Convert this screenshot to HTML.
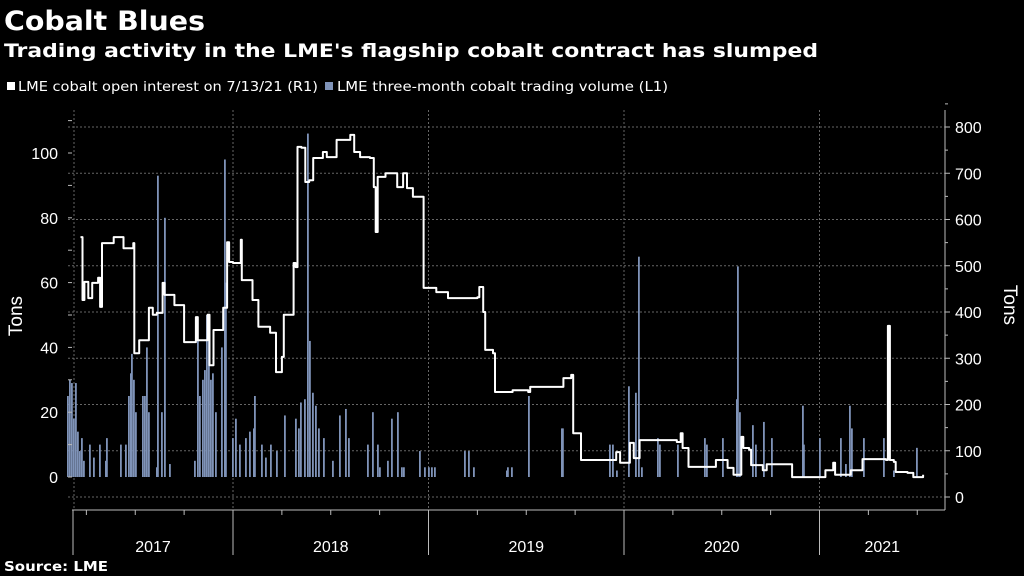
<!DOCTYPE html>
<html><head><meta charset="utf-8">
<style>
html,body{margin:0;padding:0;background:#000;}
body{width:1024px;height:576px;overflow:hidden;position:relative;font-family:"DejaVu Sans","Liberation Sans",sans-serif;color:#fff;}
</style></head><body>
<svg id="chart" width="1024" height="576" style="position:absolute;left:0;top:0;" font-family="DejaVu Sans, Liberation Sans, sans-serif">
<text x="4" y="30" font-size="27" font-weight="bold" fill="#fff" textLength="201" lengthAdjust="spacingAndGlyphs">Cobalt Blues</text>
<text x="4" y="57" font-size="19" font-weight="bold" fill="#fff" textLength="814" lengthAdjust="spacingAndGlyphs">Trading activity in the LME's flagship cobalt contract has slumped</text>
<rect x="7" y="82" width="8" height="8" fill="#fff"/>
<text x="18" y="91" font-size="13" fill="#fff" textLength="300" lengthAdjust="spacingAndGlyphs">LME cobalt open interest on 7/13/21 (R1)</text>
<rect x="325" y="82" width="8" height="8" fill="#7f93b8"/>
<text x="337" y="91" font-size="13" fill="#fff" textLength="331" lengthAdjust="spacingAndGlyphs">LME three-month cobalt trading volume  (L1)</text>
<text x="4" y="571" font-size="13" font-weight="bold" fill="#fff" textLength="104" lengthAdjust="spacingAndGlyphs">Source: LME</text>
</svg>
<script>
const leftTicks=[0,20,40,60,80,100];
const rightTicks=[0,100,200,300,400,500,600,700,800];
const years=["2017","2018","2019","2020","2021"];
const yearStarts=[2017,2018,2019,2020,2021];
const oiDates=[2017.22,2017.23,2017.24,2017.26,2017.28,2017.31,2017.32,2017.33,2017.39,2017.44,2017.49,2017.495,2017.52,2017.57,2017.59,2017.61,2017.64,2017.65,2017.70,2017.75,2017.77,2017.81,2017.82,2017.87,2017.88,2017.90,2017.95,2017.97,2017.98,2018.00,2018.04,2018.045,2018.10,2018.13,2018.19,2018.22,2018.25,2018.26,2018.31,2018.32,2018.33,2018.35,2018.37,2018.39,2018.41,2018.46,2018.48,2018.53,2018.60,2018.62,2018.65,2018.70,2018.72,2018.73,2018.74,2018.78,2018.84,2018.87,2018.89,2018.92,2018.97,2018.975,2019.04,2019.10,2019.25,2019.26,2019.28,2019.29,2019.33,2019.34,2019.43,2019.51,2019.52,2019.66,2019.69,2019.73,2019.74,2019.77,2019.78,2019.95,2019.96,2019.98,2020.02,2020.03,2020.05,2020.08,2020.27,2020.29,2020.30,2020.33,2020.46,2020.47,2020.52,2020.53,2020.56,2020.58,2020.60,2020.61,2020.64,2020.65,2020.71,2020.73,2020.84,2020.86,2020.99,2021.03,2021.07,2021.08,2021.16,2021.21,2021.22,2021.34,2021.35,2021.36,2021.38,2021.39,2021.45,2021.48,2021.53];
const oiValues=[562,426,465,430,463,474,411,549,562,538,549,311,339,409,394,398,463,437,415,335,335,389,339,394,285,361,409,551,508,506,556,469,426,368,355,270,303,394,506,497,757,755,681,685,733,746,735,772,783,746,735,733,670,573,692,700,670,700,668,649,649,452,443,430,432,454,400,318,311,227,231,227,238,238,257,264,138,138,80,80,97,74,74,117,84,123,119,138,106,65,65,80,80,63,48,48,130,106,102,69,58,71,71,43,43,58,74,48,58,58,82,80,370,80,76,54,52,43,48];
const volPx=[68,70,72,74,76,78,80,82,84,90,94,100,106,107,121,126,129,131,132,134,136,143,145,147,149,157,158,162,165,170,195,198,200,203,205,207,209,211,213,216,222,225,226,233,236,240,246,250,254,255,262,266,271,277,285,296,299,301,305,308,310,313,316,319,324,333,340,346,349,368,373,378,380,388,392,398,402,404,420,425,429,432,435,465,469,474,508,507,512,529,562,563,610,613,617,629,636,639,642,658,660,678,705,707,723,737,738,740,753,756,764,772,803,804,820,841,846,850,852,864,884,894,917];
const volValues=[25,30,29,18,29,14,8,12,5,10,6,10,5,12,10,10,25,32,38,30,20,25,25,40,20,3,93,20,80,4,5,42,25,30,33,50,50,30,32,20,40,98,60,12,18,10,12,14,15,25,10,6,10,8,19,18,15,23,24,106,42,26,22,15,12,5,19,21,12,10,20,10,3,5,18,20,3,3,8,3,3,3,3,8,8,3,3,2,3,25,15,15,10,10,2,28,26,68,3,12,10,10,12,10,12,24,65,20,16,10,17,12,22,10,12,12,4,22,15,12,12,2,9];
const volDates=volPx.map(p=>2018+(p-233)/195.5);

const svg=document.getElementById('chart');
const NS='http://www.w3.org/2000/svg';
function el(tag,attrs,parent){const e=document.createElementNS(NS,tag);for(const k in attrs)e.setAttribute(k,attrs[k]);(parent||svg).appendChild(e);return e;}
const X=t=>233+(t-2018)*195.5;
const YL=v=>477-v*3.24;
const YR=v=>497-v*0.4625;
const PL=68,PR=945,PB=510,PT=110;

const grid=el('g',{});


rightTicks.forEach(v=>{el('line',{x1:PL,x2:PR,y1:YR(v),y2:YR(v),stroke:'#666','stroke-dasharray':'2,2','stroke-width':1},grid);});
yearStarts.slice(1).forEach(y=>{el('line',{x1:X(y),x2:X(y),y1:PT,y2:PB,stroke:'#666','stroke-dasharray':'2,2','stroke-width':1},grid);});
el('line',{x1:74,x2:74,y1:PT,y2:PB,stroke:'#666','stroke-dasharray':'2,2'},grid);

const bars=el('g',{});


volDates.forEach((d,i)=>{
  const r=el('rect',{x:X(d)-1,y:YL(volValues[i]),width:1.8,height:YL(0)-YL(volValues[i]),fill:'#7f93b8'},bars);
  
  
});

let dstr='';
oiDates.forEach((d,i)=>{
  const x=X(d).toFixed(1),y=YR(oiValues[i]).toFixed(1);
  if(i===0)dstr+='M'+x+','+y;
  else dstr+='H'+x+'V'+y;
});
const line=el('path',{d:dstr,fill:'none',stroke:'#fff','stroke-width':2,'stroke-linejoin':'round'});



const ax=el('g',{stroke:'#bbb','stroke-width':1});


el('line',{x1:72,x2:PR,y1:PB,y2:PB},ax);
el('line',{x1:PR,x2:PR,y1:PT,y2:PB},ax);
el('line',{x1:73,x2:73,y1:PB,y2:555},ax);
yearStarts.slice(1).forEach(y=>el('line',{x1:X(y),x2:X(y),y1:PB,y2:555},ax));
for(let q=2017.25;q<2021.7;q+=0.25){if(Math.abs(q-Math.round(q))>0.01)el('line',{x1:X(q),x2:X(q),y1:PB,y2:PB+5},ax);}
for(let v=0;v<=110;v+=10)el('line',{x1:68,x2:72,y1:YL(v),y2:YL(v)},ax);
for(let v=0;v<=850;v+=50)el('line',{x1:PR,x2:PR+(v%100?3:5),y1:YR(v),y2:YR(v)},ax);

leftTicks.forEach(v=>{const t=el('text',{x:58,y:YL(v)+6,'text-anchor':'end','font-size':16,fill:'#fff','font-family':'Liberation Sans, sans-serif'});t.textContent=v;
 });
rightTicks.forEach(v=>{const t=el('text',{x:955,y:YR(v)+6,'font-size':16,fill:'#fff','font-family':'Liberation Sans, sans-serif'});t.textContent=v;
 });
years.forEach((y,i)=>{const a=Math.max(X(yearStarts[i]),73),b=Math.min(X(yearStarts[i]+1),945);
 const t=el('text',{x:(a+b)/2,y:552,'text-anchor':'middle','font-size':16,fill:'#fff','font-family':'Liberation Sans, sans-serif'});t.textContent=y;
 });

const yl=el('text',{x:22,y:316,'text-anchor':'middle','font-size':19,fill:'#fff',transform:'rotate(-90 22 316)','font-family':'Liberation Sans, sans-serif'});yl.textContent='Tons';

const yr=el('text',{x:1004,y:305,'text-anchor':'middle','font-size':19,fill:'#fff',transform:'rotate(90 1004 305)','font-family':'Liberation Sans, sans-serif'});yr.textContent='Tons';

</script>
</body></html>
